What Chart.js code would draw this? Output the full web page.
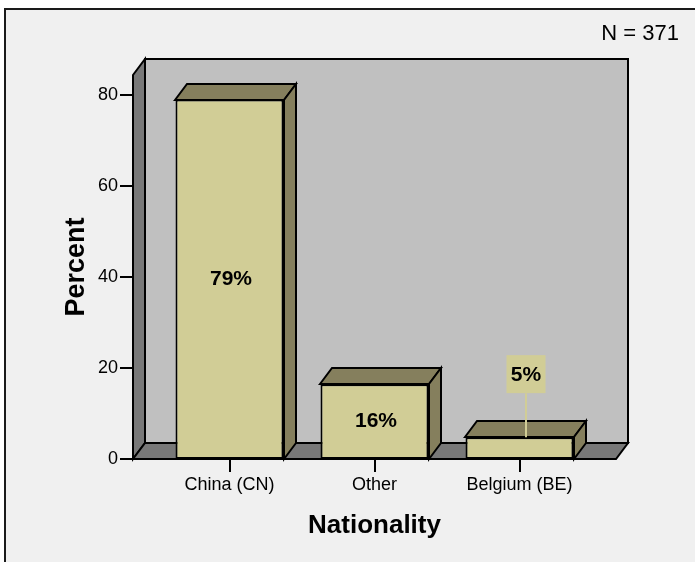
<!DOCTYPE html>
<html>
<head>
<meta charset="utf-8">
<script src="https://cdn.jsdelivr.net/npm/chart.js@4/dist/chart.umd.min.js"></script>
<style>
  body { margin: 0; background: #fff; }
  canvas { display: block; }
</style>
</head>
<body>
<canvas id="barChart" width="695" height="562"></canvas>
<script>
const categories = ['China (CN)', 'Other', 'Belgium (BE)'];
const percents = [78.9, 16.4, 4.8];
const valueLabels = ['79%', '16%', '5%'];
const yTicks = [0, 20, 40, 60, 80];
const sampleSize = 'N = 371';

const font = 'Liberation Sans, Arial, sans-serif';
const faceColor = '#d1cd96';
const shadeColor = '#857f5d';
const wallColor = '#c0c0c0';
const floorColor = '#787878';
const depth = { x: 12, y: -16 };
const wallPad = 24;

Chart.defaults.font.family = font;
Chart.defaults.color = '#000';

function poly(ctx, pts, fill) {
    ctx.beginPath();
    ctx.moveTo(Math.round(pts[0][0]), Math.round(pts[0][1]));
    for (let i = 1; i < pts.length; i++) ctx.lineTo(Math.round(pts[i][0]), Math.round(pts[i][1]));
    ctx.closePath();
    ctx.fillStyle = fill;
    ctx.fill();
    ctx.stroke();
}

// 3D look: frame, walls, floor, bar tops/sides and labels
const box3d = {
    id: 'box3d',
    beforeDraw(chart) {
        const { ctx, width, height } = chart;
        ctx.save();
        ctx.fillStyle = '#fff';
        ctx.fillRect(0, 0, width, height);
        ctx.fillStyle = '#f0f0f0';
        ctx.fillRect(4, 8, width, height);
        ctx.strokeStyle = '#1a1a1a';
        ctx.lineWidth = 2;
        ctx.beginPath();
        ctx.moveTo(5, height);
        ctx.lineTo(5, 9);
        ctx.lineTo(width, 9);
        ctx.stroke();
        ctx.restore();
    },
    beforeDatasetsDraw(chart) {
        const { ctx, chartArea: a } = chart;
        const y = chart.scales.y;
        const L = a.left - wallPad, R = a.right + wallPad;
        const B = y.getPixelForValue(0), T = a.top;
        const dx = depth.x, dy = depth.y;
        ctx.save();
        ctx.strokeStyle = '#000';
        ctx.lineWidth = 2;
        ctx.lineJoin = 'miter';
        poly(ctx, [[L + dx, T + dy], [R + dx, T + dy], [R + dx, B + dy], [L + dx, B + dy]], wallColor);
        poly(ctx, [[L, B], [L + dx, B + dy], [L + dx, T + dy], [L, T]], floorColor);
        poly(ctx, [[L, B], [R, B], [R + dx, B + dy], [L + dx, B + dy]], floorColor);
        // y tick marks
        ctx.beginPath();
        yTicks.forEach(v => {
            const py = Math.round(y.getPixelForValue(v));
            ctx.moveTo(Math.round(L) - 13, py);
            ctx.lineTo(Math.round(L), py);
        });
        ctx.stroke();
        ctx.restore();
    },
    afterDatasetsDraw(chart) {
        const { ctx } = chart;
        const dx = depth.x, dy = depth.y;
        ctx.save();
        ctx.strokeStyle = '#000';
        ctx.lineWidth = 2;
        chart.getDatasetMeta(0).data.forEach((bar, i) => {
            const l = bar.x - bar.width / 2, r = bar.x + bar.width / 2;
            poly(ctx, [[l, bar.y], [l + dx, bar.y + dy], [r + dx, bar.y + dy], [r, bar.y]], shadeColor);
            poly(ctx, [[r, bar.y], [r + dx, bar.y + dy], [r + dx, bar.base + dy], [r, bar.base]], shadeColor);

            ctx.font = 'bold 21px ' + font;
            ctx.textAlign = 'center';
            ctx.textBaseline = 'middle';
            if (bar.base - bar.y > 40) {
                ctx.fillStyle = '#000';
                ctx.fillText(valueLabels[i], bar.x + 1.5, (bar.y + bar.base) / 2);
            } else {
                const cx = Math.round(bar.x + dx / 2), cy = bar.y - 63;
                ctx.strokeStyle = faceColor;
                ctx.beginPath();
                ctx.moveTo(cx, cy + 19);
                ctx.lineTo(cx, bar.y);
                ctx.stroke();
                ctx.fillStyle = faceColor;
                ctx.fillRect(cx - 19.5, cy - 19, 39, 38);
                ctx.fillStyle = '#000';
                ctx.fillText(valueLabels[i], cx, cy + 1);
                ctx.strokeStyle = '#000';
            }
        });
        ctx.restore();
    },
    afterDraw(chart) {
        const { ctx } = chart;
        ctx.save();
        ctx.font = '22px ' + font;
        ctx.fillStyle = '#000';
        ctx.textAlign = 'right';
        ctx.textBaseline = 'middle';
        ctx.fillText(sampleSize, 679, 34);
        ctx.restore();
    }
};

const ctx = document.getElementById('barChart').getContext('2d');

const data = {
    labels: categories,
    datasets: [{
        data: percents,
        backgroundColor: faceColor,
        borderColor: '#000',
        borderWidth: 2,
        borderSkipped: false,
        barPercentage: 0.745,
        categoryPercentage: 1,
    }],
};

const config = {
    type: 'bar',
    data: data,
    options: {
        responsive: false,
        animation: false,
        layout: { padding: { left: 0, top: 75, right: 103, bottom: 0 } },
        plugins: {
            legend: { display: false },
            tooltip: { enabled: false },
        },
        scales: {
            x: {
                grid: { display: true, drawOnChartArea: false, offset: false, tickLength: 13, color: '#000', lineWidth: 2 },
                border: { display: false },
                ticks: { font: { size: 18 }, padding: 2 },
                title: {
                    display: true, text: 'Nationality',
                    font: { size: 26, weight: 'bold', lineHeight: 1 },
                    padding: { top: 0, bottom: 23 },
                },
                afterFit(s) { s.height = 103; },
            },
            y: {
                min: 0,
                max: 84.3,
                afterBuildTicks(s) { s.ticks = yTicks.map(v => ({ value: v })); },
                grid: { display: false, drawTicks: false },
                border: { display: false },
                ticks: { font: { size: 18 }, padding: 39 },
                title: {
                    display: true, text: 'Percent',
                    font: { size: 27, weight: 'bold', lineHeight: 1 },
                    padding: { top: 63, bottom: 0 },
                },
                afterFit(s) { s.width = 157; },
            },
        },
    },
    plugins: [box3d],
};

const myChart = new Chart(ctx, config);
</script>
</body>
</html>
